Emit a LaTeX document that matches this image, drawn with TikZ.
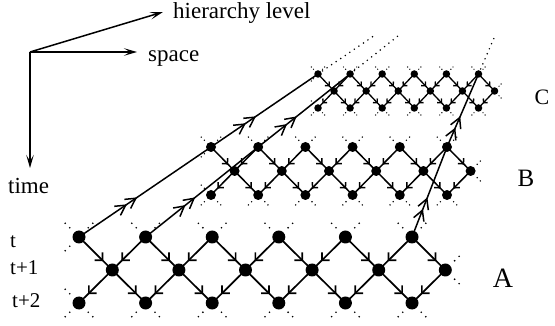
\documentclass[tikz,border=0pt]{standalone}
\usepackage{fontspec}
\setmainfont{Liberation Serif}
\usetikzlibrary{arrows.meta,decorations.markings,calc,backgrounds}
\newcommand\stubline[3]{\draw[stub] ($(#1.center)+({#2*0.28*\hh},{#3*0.28*\vv})$) -- ($(#1.center)+({#2*0.43*\hh},{#3*0.43*\vv})$);}
\begin{document}
\begin{tikzpicture}[x=1pt,y=-1pt,
  dot/.style={circle, fill=black, inner sep=0pt, minimum size=#1},
  axis/.style={line width=1.5pt, -{Stealth[length=13pt,width=7.5pt,inset=6pt]}},
  hier/.style={line width=1.5pt, postaction={decorate},
    decoration={markings, mark=at position #1 with {\arrow{Straight Barb[length=10pt,width=11pt] Straight Barb[length=10pt,width=11pt]}}}},
  hierdot/.style={line width=1.7pt, line cap=round, dash pattern=on 0pt off 5.5pt},
  latedge/.style={line width=\lw, postaction={decorate},
    decoration={markings, mark=at position 0.73 with {\arrow{Straight Barb[length=\al pt,width=\aw pt]}}}},
  stub/.style={line width=\sw, line cap=round, dash pattern=on 0pt off \sg},
  lbl/.style={font=\fontsize{23}{26}\selectfont, anchor=base west, inner sep=0pt},
  tl/.style={font=\fontsize{21}{24}\selectfont, anchor=base west, inner sep=0pt}]
\useasboundingbox (0,0) rectangle (555,326);

\foreach \ly/\xo/\yo/\hh/\vv/\ds/\lw/\al/\sw/\sg in
  {A/79/237/33.3/33/13pt/1.7pt/5.5/1.8pt/6.3pt,
   B/211/147/23.6/24/10pt/1.5pt/4/1.6pt/4.5pt,
   C/318/74/16.05/17/7.5pt/1.3pt/3/1.4pt/3.1pt}{
  \pgfmathsetmacro\aw{2*\al}
  \foreach \i in {0,...,5}{
    \node[dot=\ds] (\ly t\i) at ({\xo+2*\hh*\i},\yo) {};
    \node[dot=\ds] (\ly m\i) at ({\xo+\hh+2*\hh*\i},{\yo+\vv}) {};
    \node[dot=\ds] (\ly b\i) at ({\xo+2*\hh*\i},{\yo+2*\vv}) {};
  }
  \begin{scope}[on background layer]
    \foreach \i in {0,...,5}{
      \draw[latedge] (\ly t\i.center) -- (\ly m\i.center);
      \draw[latedge] (\ly m\i.center) -- (\ly b\i.center);
      \stubline{\ly t\i}{-1}{-1}
      \stubline{\ly t\i}{1}{-1}
      \stubline{\ly b\i}{-1}{1}
      \stubline{\ly b\i}{1}{1}
    }
    \foreach \i in {1,...,5}{
      \pgfmathtruncatemacro\j{\i-1}
      \draw[latedge] (\ly t\i.center) -- (\ly m\j.center);
      \draw[latedge] (\ly m\j.center) -- (\ly b\i.center);
    }
    \stubline{\ly t0}{-1}{1}
    \stubline{\ly b0}{-1}{-1}
    \stubline{\ly m5}{1}{-1}
    \stubline{\ly m5}{1}{1}
  \end{scope}
}

\begin{scope}[on background layer]
  \foreach \k in {0,1,5}{
    \draw[hier=0.44] (At\k.center) -- (Bt\k.center);
    \draw[hier=0.42] (Bt\k.center) -- (Ct\k.center);
    \coordinate (E\k) at ($(Bt\k.center)!1.52!(Ct\k.center)$);
    \draw[hierdot] (Ct\k.center) -- (E\k);
  }
\end{scope}

\coordinate (O) at (30,52);
\coordinate (Hx) at (163,12);
\coordinate (Sx) at (137,52);
\coordinate (Tx) at (30,168);
\draw[axis] (O) -- (Hx);
\draw[axis] (O) -- (Sx);
\draw[axis] (O) -- (Tx);

\node[lbl] (hl) at (173,19) {hierarchy level};
\node[lbl] (sp) at (148,62) {space};
\node[lbl] (tm) at (8,194) {time};
\node[tl] (t0) at (10,248) {t};
\node[tl] (t1) at (10,275) {t+1};
\node[tl] (t2) at (12,308) {t+2};

\node[font=\fontsize{28}{30}\selectfont, inner sep=0pt] (LA) at (503,278) {A};
\node[font=\fontsize{25}{28}\selectfont, inner sep=0pt] (LB) at (526,178) {B};
\node[font=\fontsize{22}{24}\selectfont, inner sep=0pt] (LC) at (542,97) {C};
\end{tikzpicture}
\end{document}
